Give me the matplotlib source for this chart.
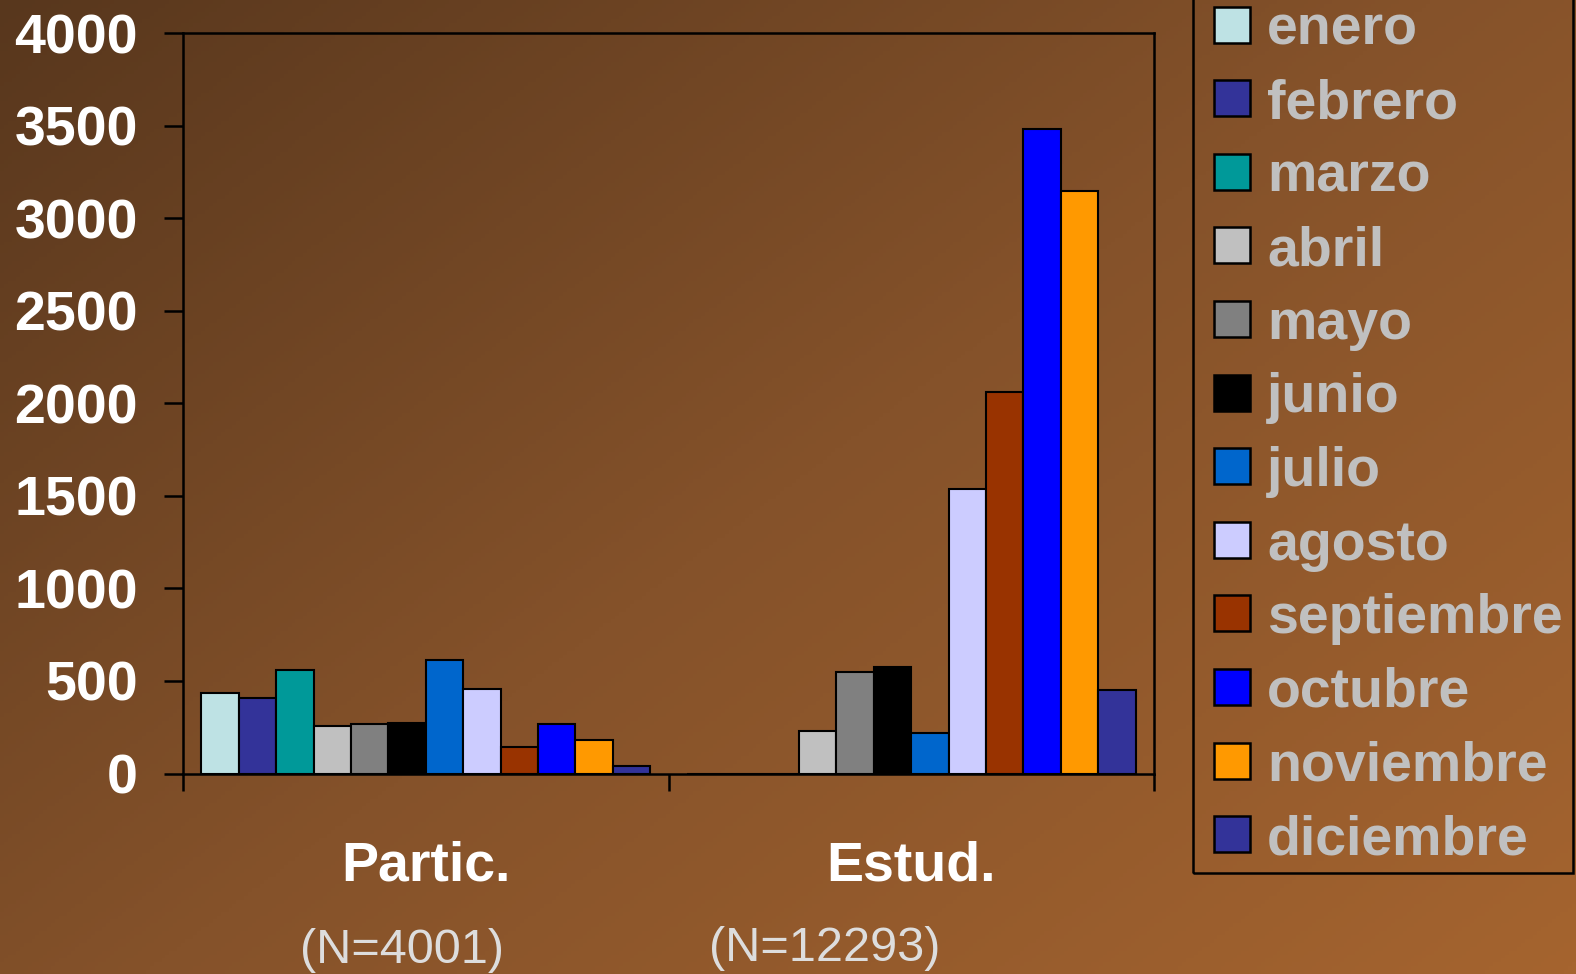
import numpy as np
import matplotlib
matplotlib.use('Agg')
import matplotlib.pyplot as plt
from matplotlib.colors import LinearSegmentedColormap
from matplotlib.patches import Rectangle

# data
months = ['enero', 'febrero', 'marzo', 'abril', 'mayo', 'junio', 'julio',
          'agosto', 'septiembre', 'octubre', 'noviembre', 'diciembre']
groups = ['Partic.', 'Estud.']
group_n = ['(N=4001)', '(N=12293)']
partic = [434, 409, 562, 256, 269, 272, 611, 458, 144, 269, 182, 42]
estud = [0, 0, 0, 232, 550, 577, 220, 1540, 2061, 3481, 3150, 450]
colors = ['#BEE2E4', '#333399', '#009999', '#C0C0C0', '#808080', '#000000',
          '#0066CC', '#CCCCFF', '#993300', '#0000FF', '#FF9900', '#333399']
yticks = [0, 500, 1000, 1500, 2000, 2500, 3000, 3500, 4000]

W, H = 1576, 974
plt.rcParams['font.family'] = ['Liberation Sans', 'DejaVu Sans']

fig = plt.figure(figsize=(W / 100, H / 100), dpi=100)

# brown diagonal gradient background
bg = fig.add_axes([0, 0, 1, 1], zorder=-10)
u, v = np.meshgrid(np.linspace(0, 1, 400), np.linspace(0, 1, 250))
t = (0.55 * u + 0.45 * v)
cmap = LinearSegmentedColormap.from_list('bg', ['#58371D', '#85522A', '#A5642F'])
bg.imshow(t, cmap=cmap, aspect='auto', extent=[0, 1, 0, 1], origin='upper')
bg.axis('off')

def px(x0, y0, x1, y1):
    return [x0 / W, 1 - y1 / H, (x1 - x0) / W, (y1 - y0) / H]

ax = fig.add_axes(px(183, 33.3, 1154, 773.5))
ax.set_facecolor('none')

values = np.array([partic, estud])
n = len(months)
bw = 0.077
x = np.arange(len(groups))
for i in range(n):
    ax.bar(x - bw * n / 2 + bw * (i + 0.5), values[:, i], width=bw,
           color=colors[i], edgecolor='black', linewidth=1.5, zorder=3)

ax.set_xlim(-0.5, 1.5)
ax.set_ylim(0, 4000)
ax.set_yticks(yticks)
ax.set_yticklabels([str(v) for v in yticks], color='white',
                   fontsize=40, fontweight='bold')
ax.tick_params(axis='y', direction='out', length=13.5, width=1.8, pad=19)

ax.set_xticks(x)
ax.set_xticklabels(groups, color='white', fontsize=40, fontweight='bold')
ax.tick_params(axis='x', which='major', length=0, pad=48)
ax.set_xticks([-0.5, 0.5, 1.5], minor=True)
ax.tick_params(axis='x', which='minor', direction='out', length=12, width=1.8)

for s in ax.spines.values():
    s.set_linewidth(1.8)
    s.set_color('black')

# N labels under the groups
fig.text(402 / W, 1 - 963 / H, group_n[0], ha='center', va='baseline',
         color='#DDDDDD', fontsize=35)
fig.text(824.7 / W, 1 - 960.7 / H, group_n[1], ha='center', va='baseline',
         color='#DDDDDD', fontsize=35)

# legend box (top runs off the figure)
fig.patches.append(Rectangle((1193 / W, 1 - 873 / H), (1573 - 1193) / W, 900 / H,
                             transform=fig.transFigure, facecolor='none',
                             edgecolor='black', linewidth=1.8, zorder=5))
for i, m in enumerate(months):
    cy = 24.5 + 73.6 * i
    fig.patches.append(Rectangle((1214 / W, 1 - (cy + 18) / H), 36 / W, 36 / H,
                                 transform=fig.transFigure, facecolor=colors[i],
                                 edgecolor='black', linewidth=1.8, zorder=6))
    fig.text(1267 / W, 1 - (cy + 20) / H, m, ha='left', va='baseline',
             color='#C0C0C0', fontsize=40, fontweight='bold')

fig.savefig('out.png', dpi=100)
